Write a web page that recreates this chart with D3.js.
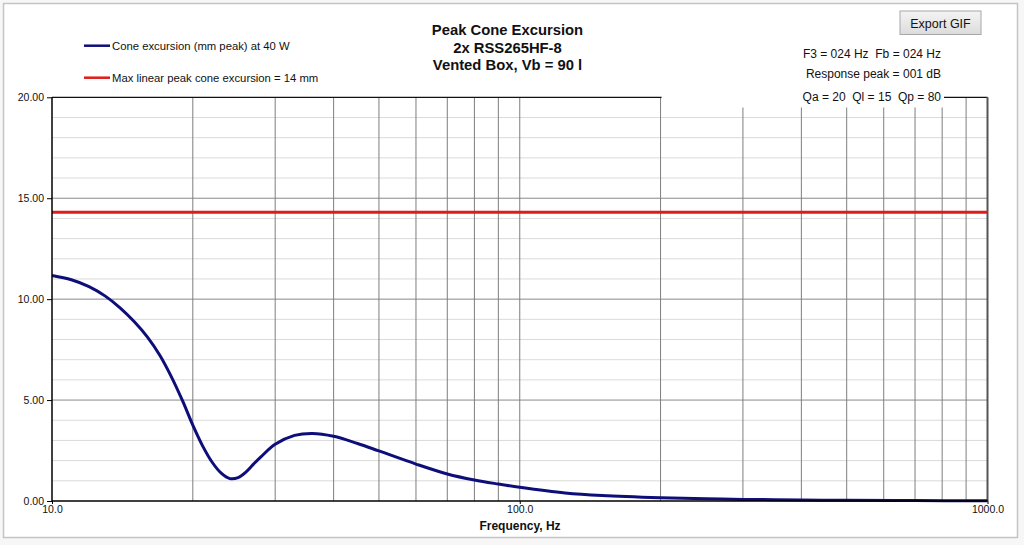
<!DOCTYPE html>
<html>
<head>
<meta charset="utf-8">
<script src="https://cdn.jsdelivr.net/npm/d3@7"></script>
<style>
  body { margin: 0; background: #f7f7f7; font-family: "Liberation Sans", Arial, sans-serif; }
  svg { display: block; }
  text { white-space: pre; }
</style>
</head>
<body>
<script>
//Size of the page and plot area
var w = 1024;
var h = 545;
var plot = { left: 52, right: 987.5, top: 97.3, bottom: 501 };

//Frequency (Hz) and peak cone excursion (mm)
var freqs = [10, 11, 12, 13, 14, 15, 16, 17, 18, 19, 20, 21, 22, 23, 24, 25, 26, 27, 28, 30,
  33, 36, 40, 45, 50, 60, 70, 80, 90, 100, 125, 150, 200, 250, 300, 400, 500, 700, 1000];
var excursion = [11.17, 10.96, 10.62, 10.15, 9.56, 8.88, 8.12, 7.22, 6.15, 4.98, 3.76, 2.72, 1.92, 1.38, 1.11, 1.16, 1.44, 1.84, 2.20, 2.81,
  3.25, 3.35, 3.21, 2.85, 2.48, 1.83, 1.34, 1.04, 0.84, 0.68, 0.40, 0.27, 0.16, 0.11, 0.08, 0.05, 0.035, 0.02, 0.01];
var maxLinear = 14.3;

//Gridlines and tick labels
var freqGrid = [20, 30, 40, 50, 60, 70, 80, 90, 100, 200, 300, 400, 500, 600, 700, 800, 900];
var freqLabels = [10, 100, 1000];
var yMinor = [1, 2, 3, 4, 6, 7, 8, 9, 11, 12, 13, 14, 16, 17, 18, 19];
var yMajor = [0, 5, 10, 15, 20];

//Texts
var titleLines = ["Peak Cone Excursion", "2x RSS265HF-8", "Vented Box, Vb = 90 l"];
var infoLines = ["F3 = 024 Hz  Fb = 024 Hz", "Response peak = 001 dB", "Qa = 20  Ql = 15  Qp = 80"];
var legendItems = [
  { label: "Cone excursion (mm peak) at 40 W", color: "#0e0e7a" },
  { label: "Max linear peak cone excursion = 14 mm", color: "#e21a1a" }
];

var dataset = freqs.map(function (f, i) {
  return { f: f, v: excursion[i] };
});

//Scales
var xScale = d3.scaleLog().domain([10, 1000]).range([plot.left, plot.right]);
var yScale = d3.scaleLinear().domain([0, 20]).range([plot.bottom, plot.top]);

var svg = d3.select("body").append("svg").attr("width", w).attr("height", h);

//Chart frame on the sheet
svg.append("rect")
  .attr("x", 3.5).attr("y", 3.5)
  .attr("width", 1014).attr("height", 534)
  .attr("fill", "#fff")
  .attr("stroke", "#c4c4c4")
  .attr("stroke-width", 1.5);

//Minor horizontal gridlines
svg.append("g")
  .selectAll("line")
  .data(yMinor)
  .enter()
  .append("line")
  .attr("x1", plot.left).attr("x2", plot.right)
  .attr("y1", function (d) { return yScale(d); })
  .attr("y2", function (d) { return yScale(d); })
  .attr("stroke", "#dadada")
  .attr("stroke-width", 1);

//Major horizontal gridlines
svg.append("g")
  .selectAll("line")
  .data([5, 10, 15])
  .enter()
  .append("line")
  .attr("x1", plot.left).attr("x2", plot.right)
  .attr("y1", function (d) { return yScale(d); })
  .attr("y2", function (d) { return yScale(d); })
  .attr("stroke", "#8a8a8a")
  .attr("stroke-width", 1);

//Vertical gridlines
svg.append("g")
  .selectAll("line")
  .data(freqGrid)
  .enter()
  .append("line")
  .attr("x1", function (d) { return xScale(d); })
  .attr("x2", function (d) { return xScale(d); })
  .attr("y1", plot.top)
  .attr("y2", plot.bottom)
  .attr("stroke", "#7e7e7e")
  .attr("stroke-width", 1);

//White box behind the parameter text, it hides the top of the gridlines
svg.append("rect")
  .attr("x", xScale(200) + 1.5).attr("y", 40)
  .attr("width", 943 - xScale(200) - 1.5).attr("height", 67.5)
  .attr("fill", "#fff");

//Plot frame
svg.append("line")
  .attr("x1", plot.left).attr("x2", xScale(200) + 1)
  .attr("y1", plot.top).attr("y2", plot.top)
  .attr("stroke", "#111").attr("stroke-width", 1.3);
svg.append("line")
  .attr("x1", 944).attr("x2", plot.right)
  .attr("y1", plot.top).attr("y2", plot.top)
  .attr("stroke", "#111").attr("stroke-width", 1.3);
svg.append("line")
  .attr("x1", plot.right).attr("x2", plot.right)
  .attr("y1", plot.top).attr("y2", plot.bottom)
  .attr("stroke", "#555").attr("stroke-width", 2);

//Max linear excursion
svg.append("line")
  .attr("x1", plot.left).attr("x2", plot.right)
  .attr("y1", yScale(maxLinear)).attr("y2", yScale(maxLinear))
  .attr("stroke", legendItems[1].color)
  .attr("stroke-width", 3);

//Excursion curve
var line = d3.line()
  .x(function (d) { return xScale(d.f); })
  .y(function (d) { return yScale(d.v); })
  .curve(d3.curveCatmullRom.alpha(0.5));

svg.append("path")
  .datum(dataset)
  .attr("d", line)
  .attr("fill", "none")
  .attr("stroke", legendItems[0].color)
  .attr("stroke-width", 3);

//Axes
var yAxis = d3.axisLeft(yScale)
  .tickValues(yMajor)
  .tickSize(5)
  .tickPadding(3)
  .tickFormat(d3.format(".2f"));

var xAxis = d3.axisBottom(xScale)
  .tickValues(freqLabels)
  .tickSize(3)
  .tickPadding(2)
  .tickFormat(d3.format(".1f"));

var gy = svg.append("g")
  .attr("transform", "translate(" + plot.left + ",0)")
  .call(yAxis);

var gx = svg.append("g")
  .attr("transform", "translate(0," + plot.bottom + ")")
  .call(xAxis);

[gx, gy].forEach(function (g) {
  g.select(".domain").attr("stroke", "#000").attr("stroke-width", 1.5);
  g.selectAll(".tick line").attr("stroke", "#000");
  g.selectAll(".tick text")
    .attr("font-family", "Liberation Sans, Arial, sans-serif")
    .attr("font-size", 10.5)
    .attr("fill", "#111");
});
gy.select(".domain").attr("d", "M0," + plot.bottom + "V" + plot.top);
gx.select(".domain").attr("d", "M" + plot.left + ",0H" + plot.right);

svg.append("text")
  .attr("x", 520).attr("y", 529.5)
  .attr("text-anchor", "middle")
  .attr("font-size", 12)
  .attr("font-weight", "bold")
  .attr("fill", "#111")
  .text("Frequency, Hz");

//Title
svg.append("g")
  .selectAll("text")
  .data(titleLines)
  .enter()
  .append("text")
  .attr("x", 507.5)
  .attr("y", function (d, i) { return 35 + i * 17.5; })
  .attr("text-anchor", "middle")
  .attr("font-size", 14.8)
  .attr("font-weight", "bold")
  .attr("fill", "#111")
  .text(function (d) { return d; });

//Parameter text
svg.append("g")
  .selectAll("text")
  .data(infoLines)
  .enter()
  .append("text")
  .attr("x", 941)
  .attr("y", function (d, i) { return [58.3, 78, 100.5][i]; })
  .attr("text-anchor", "end")
  .attr("font-size", 12)
  .attr("fill", "#111")
  .text(function (d) { return d; });

//Legend
var legend = svg.append("g")
  .selectAll("g")
  .data(legendItems)
  .enter()
  .append("g")
  .attr("transform", function (d, i) { return "translate(0," + (45.7 + i * 32) + ")"; });

legend.append("line")
  .attr("x1", 84).attr("x2", 110)
  .attr("stroke", function (d) { return d.color; })
  .attr("stroke-width", 2.5);

legend.append("text")
  .attr("x", 112).attr("y", 4)
  .attr("font-size", 11.3)
  .attr("fill", "#111")
  .text(function (d) { return d.label; });

//Export button
var grad = svg.append("defs").append("linearGradient")
  .attr("id", "btnGrad").attr("x1", 0).attr("y1", 0).attr("x2", 0).attr("y2", 1);
grad.append("stop").attr("offset", "0%").attr("stop-color", "#f4f4f4");
grad.append("stop").attr("offset", "100%").attr("stop-color", "#dcdcdc");

var btn = svg.append("g").attr("transform", "translate(900,11)");
btn.append("rect")
  .attr("width", 81).attr("height", 23.5)
  .attr("fill", "url(#btnGrad)")
  .attr("stroke", "#a8a8a8");
btn.append("text")
  .attr("x", 40.5).attr("y", 16.5)
  .attr("text-anchor", "middle")
  .attr("font-size", 12.5)
  .attr("fill", "#111")
  .text("Export GIF");
</script>
</body>
</html>
